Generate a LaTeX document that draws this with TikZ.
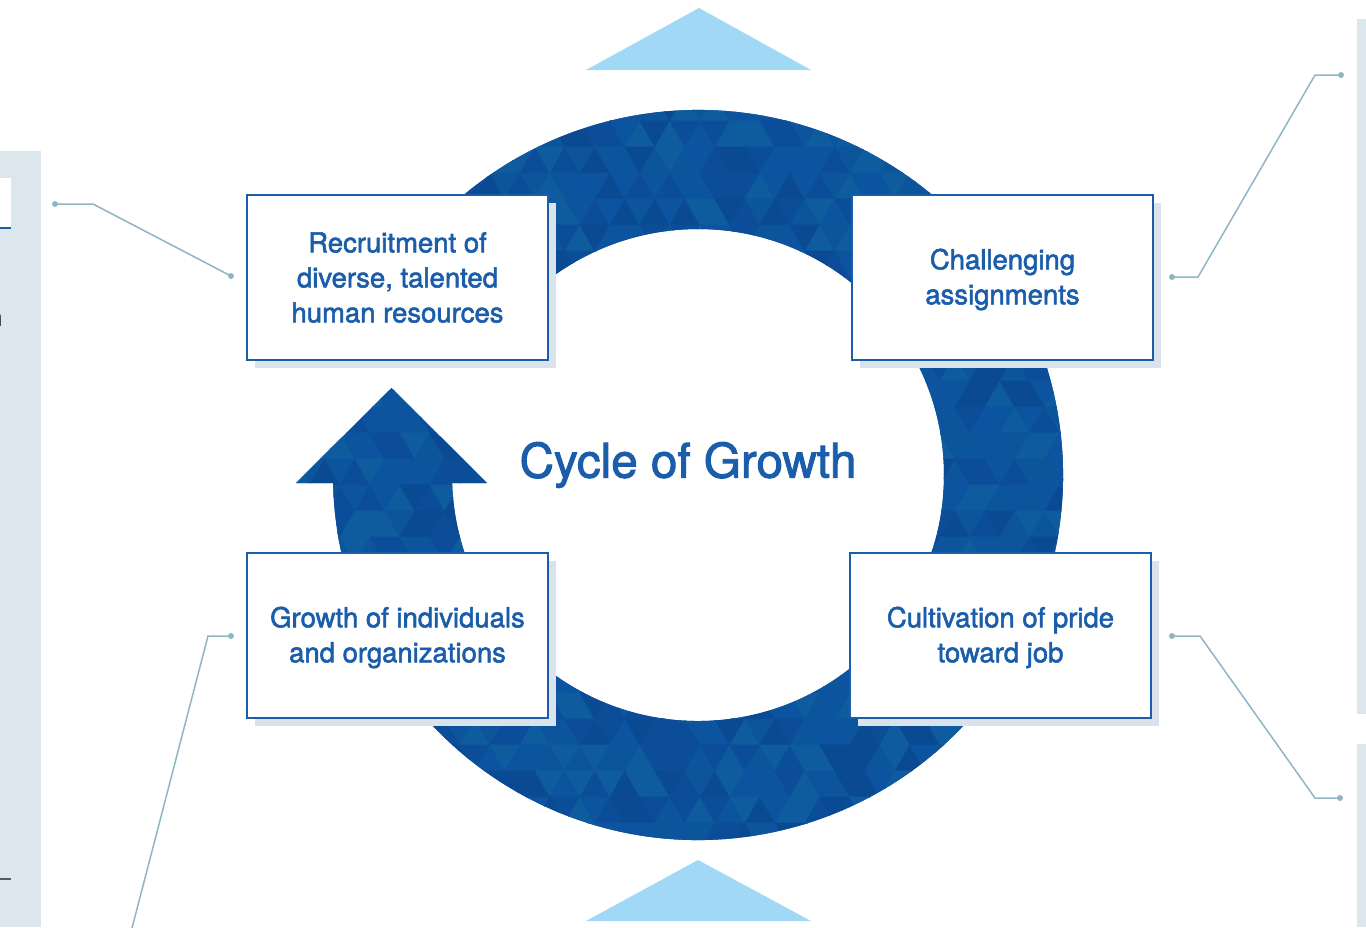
\documentclass[tikz,border=0pt]{standalone}
\usepackage{fontspec}
\setmainfont{TeX Gyre Heros}
\newfontfamily\medfont[FakeBold=2]{TeX Gyre Heros}
\usetikzlibrary{shadows}
\definecolor{boxblue}{HTML}{1A5DAB}
\definecolor{shadowc}{HTML}{DAE3EC}
\definecolor{panelc}{HTML}{DCE6ED}
\definecolor{connc}{HTML}{90B6C6}
\definecolor{skyc}{HTML}{A0D8F5}
\definecolor{ring1}{HTML}{0C53A0}
\definecolor{ring2}{HTML}{0B4D98}
\definecolor{ring3}{HTML}{0E5B9E}
\definecolor{ring4}{HTML}{0C559C}
\definecolor{ring5}{HTML}{0A4A93}
\begin{document}
\begin{tikzpicture}[x=0.5pt,y=-0.5pt,
  cbox/.style={draw=boxblue, line width=1pt, fill=white,
    minimum width=150.5pt, minimum height=82.5pt, align=center, text=boxblue,
    font=\medfont\fontsize{13.75}{17.5}\selectfont,
    drop shadow={shadow xshift=4pt, shadow yshift=-4pt, fill=shadowc, opacity=1, draw=none}},
  dotn/.style={circle, fill=connc, inner sep=0pt, minimum size=3pt},
  conn/.style={draw=connc, line width=0.75pt}]
\useasboundingbox (0,0) rectangle (1366,927);
\fill[white] (0,0) rectangle (1366,927);

% side panels
\fill[panelc] (0,151) rectangle (41,927);
\fill[white] (0,178) rectangle (11,228);
\draw[boxblue, line width=1pt] (0,228) -- (11,228);
\node[anchor=east, inner sep=0pt, font=\fontsize{12.5}{14}\selectfont] (frag) at (3,320) {n};
\draw[black!65, line width=0.75pt] (0,879) -- (11,879);
\fill[panelc] (1357,19) rectangle (1366,714);
\fill[panelc] (1357,744) rectangle (1366,927);

% light triangles
\fill[skyc] (586,70) -- (699,8) -- (811,70) -- cycle;
\fill[skyc] (586,921) -- (698,860) -- (811,921) -- cycle;

% ring with arrow, mosaic
\begin{scope}
\clip (698,475) ++(210:365) arc[start angle=210,end angle=538.74,radius=365]
  -- (296,483) -- (391.5,388) -- (487,483) -- (452.13,483)
  arc[start angle=538.14,end angle=210,radius=246] -- cycle;
\fill[ring1] (280,80) rectangle (1100,870);
\pgfmathsetseed{11}
\foreach \j in {0,...,30}{
  \foreach \i in {0,...,28}{
    \pgfmathsetmacro{\xa}{280+\i*30-mod(\j,2)*15}
    \pgfmathsetmacro{\ya}{95+\j*26}
    \pgfmathrandominteger{\ra}{1}{5}
    \pgfmathrandominteger{\rb}{1}{5}
    \path[fill=ring\ra, draw=ring\ra, line width=0.3pt] (\xa,\ya+26) -- (\xa+30,\ya+26) -- (\xa+15,\ya) -- cycle;
    \path[fill=ring\rb, draw=ring\rb, line width=0.3pt] (\xa+15,\ya) -- (\xa+45,\ya) -- (\xa+30,\ya+26) -- cycle;
  }
}
\end{scope}

% boxes
\node[cbox] (b1) at (397.5,277.5) {Recruitment of\\diverse, talented\\human resources};
\node[cbox] (b2) at (1002.5,277.5) {\strut Challenging\\assignments};
\node[cbox] (b3) at (397.5,635.5) {\strut Growth of individuals\\and organizations};
\node[cbox] (b4) at (1000.5,635.5) {\strut Cultivation of pride\\toward job};

\node[text=boxblue, font=\medfont\fontsize{23.8}{28}\selectfont] (title) at (688,465) {Cycle of Growth};

% connectors
\node[dotn] (p1) at (55,204) {};
\coordinate (k1) at (93,204);
\node[dotn] (q1) at (231,276) {};
\draw[conn] (p1.center) -- (k1) -- (q1.center);

\node[dotn] (p2) at (1172,277) {};
\coordinate (k2) at (1198,277);
\coordinate (m2) at (1315,75);
\node[dotn] (q2) at (1341,75) {};
\draw[conn] (p2.center) -- (k2) -- (m2) -- (q2.center);

\node[dotn] (p3) at (231,636) {};
\coordinate (k3) at (208,636);
\coordinate (e3) at (131.5,930);
\draw[conn] (p3.center) -- (k3) -- (e3);

\node[dotn] (p4) at (1172,636) {};
\coordinate (k4) at (1200,636);
\coordinate (m4) at (1315,798);
\node[dotn] (q4) at (1340,798) {};
\draw[conn] (p4.center) -- (k4) -- (m4) -- (q4.center);
\end{tikzpicture}
\end{document}
